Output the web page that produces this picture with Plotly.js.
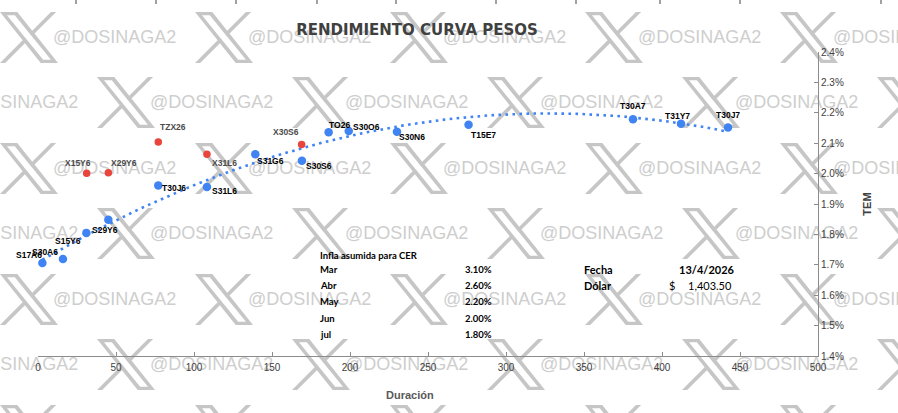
<!DOCTYPE html>
<html>
<head>
<meta charset="utf-8">
<script src="https://cdn.plot.ly/plotly-3.0.1.min.js"></script>
<style>html,body{margin:0;padding:0;background:#fff;}#chart{width:898px;height:413px;}</style>
</head>
<body>
<div id="chart"></div>
<script>
// ---- Data (Duración in days, TEM in %) ----
const blueNames = ["S17A6","S30A6","S15Y6","S29Y6","T30J6","S31L6","S31G6","S30S6","TO26","S30O6","S30N6","T15E7","T30A7","T31Y7","T30J7"];
const blueDur   = [2.8, 16.0, 31.0, 45.1, 77.1, 108.3, 139.3, 169.2, 186.3, 199.2, 230.1, 276.0, 381.4, 412.2, 442.3];
const blueTem   = [1.706, 1.719, 1.805, 1.848, 1.961, 1.956, 2.064, 2.042, 2.136, 2.140, 2.138, 2.161, 2.179, 2.164, 2.152];

const redNames = ["X15Y6","X29Y6","TZX26","X31L6","X30S6"];
const redDur   = [31.2, 45.1, 77.1, 108.3, 169.0];
const redTem   = [2.001, 2.003, 2.104, 2.064, 2.096];

const inflaMonths = ["Mar","Abr","May","Jun","jul"];
const inflaValues = ["3.10%","2.60%","2.20%","2.00%","1.80%"];
const fecha = "13/4/2026";
const dolar = "1,403.50";

// ---- Label placement (pixel offsets of label centre from its point) ----
const blueLabelOffsets = [[-13,-8],[-18,-7],[-18,8],[-3,10],[16,3],[18,4],[15,7],[17,5],[11,-7],[18,-4],[15,5],[15,10],[0,-13],[-4,-8],[0,-12]];
const redLabelOffsets  = [[-9,-10],[16,-10],[15,-15],[18,9],[-16,-12]];

// ---- Quadratic (order-2 polynomial) trendline of the blue series, like the spreadsheet ----
function polyFit2(xs, ys){
  let n=xs.length,s0=n,s1=0,s2=0,s3=0,s4=0,t0=0,t1=0,t2=0;
  for(let i=0;i<n;i++){const x=xs[i],y=ys[i];s1+=x;s2+=x*x;s3+=x*x*x;s4+=x*x*x*x;t0+=y;t1+=x*y;t2+=x*x*y;}
  const A=[[s0,s1,s2,t0],[s1,s2,s3,t1],[s2,s3,s4,t2]];
  for(let c=0;c<3;c++){
    let p=c;for(let r=c+1;r<3;r++) if(Math.abs(A[r][c])>Math.abs(A[p][c])) p=r;
    [A[c],A[p]]=[A[p],A[c]];
    for(let r=0;r<3;r++){ if(r===c) continue; const f=A[r][c]/A[c][c]; for(let k=c;k<4;k++) A[r][k]-=f*A[c][k]; }
  }
  return [A[0][3]/A[0][0],A[1][3]/A[1][1],A[2][3]/A[2][2]];
}
const coef = polyFit2(blueDur, blueTem);
const xmin = Math.min(...blueDur), xmax = Math.max(...blueDur);
const trendX = [], trendY = [];
for(let i=0;i<=80;i++){ const x = xmin + (xmax-xmin)*i/80; trendX.push(x); trendY.push(coef[0]+coef[1]*x+coef[2]*x*x); }

// ---- Geometry helpers ----
const W=898,H=413,ML=38,MR=80,MT=52,MB=57;
const PW=W-ML-MR, PH=H-MT-MB;
const px=p=>(p-ML)/PW, py=p=>(H-MB-p)/PH;

const BLUE="#3f84f2", RED="#e8453c";

const traces = [
  {x:trendX,y:trendY,mode:"lines",line:{color:BLUE,width:2.6,dash:"2.6px,4.4px"},hoverinfo:"skip",showlegend:false},
  {x:blueDur,y:blueTem,mode:"markers",marker:{color:BLUE,size:8.5},text:blueNames,showlegend:false},
  {x:redDur,y:redTem,mode:"markers",marker:{color:RED,size:7.5},text:redNames,showlegend:false}
];

const annotations = [];
blueNames.forEach((n,i)=>annotations.push({x:blueDur[i],y:blueTem[i],xref:"x",yref:"y",text:n,showarrow:false,
  xshift:blueLabelOffsets[i][0],yshift:-blueLabelOffsets[i][1],font:{family:"Liberation Sans, Arial",size:8.5,color:"#000",weight:"bold"}}));
redNames.forEach((n,i)=>annotations.push({x:redDur[i],y:redTem[i],xref:"x",yref:"y",text:n,showarrow:false,
  xshift:redLabelOffsets[i][0],yshift:-redLabelOffsets[i][1],font:{family:"Liberation Sans, Arial",size:8.5,color:"#4a4a4a",weight:"bold"}}));

// x-axis title
annotations.push({xref:"paper",yref:"paper",x:px(410),y:py(395),text:"Duración",showarrow:false,xanchor:"center",yanchor:"middle",
  font:{family:"Liberation Sans, Arial",size:11,color:"#595959",weight:"bold"}});

// Inflation table
const tblFont={family:"Lato, Carlito, Calibri, sans-serif",size:9.5,color:"#000",weight:"bold"};
annotations.push({xref:"paper",yref:"paper",x:px(318),y:py(255),text:"Infla asumida para CER",showarrow:false,xanchor:"left",yanchor:"middle",font:tblFont});
inflaMonths.forEach((m,i)=>{
  const yy=269.3+i*16.25;
  annotations.push({xref:"paper",yref:"paper",x:px(318),y:py(yy),text:m,showarrow:false,xanchor:"left",yanchor:"middle",font:tblFont});
  annotations.push({xref:"paper",yref:"paper",x:px(494),y:py(yy),text:inflaValues[i],showarrow:false,xanchor:"right",yanchor:"middle",font:tblFont});
});
const boxFont={family:"Lato, Carlito, Calibri, sans-serif",size:11,color:"#000",weight:"bold"};
const boxFontN={family:"Lato, Carlito, Calibri, sans-serif",size:11,color:"#000"};
annotations.push({xref:"paper",yref:"paper",x:px(582),y:py(269),text:"Fecha",showarrow:false,xanchor:"left",yanchor:"middle",font:boxFont});
annotations.push({xref:"paper",yref:"paper",x:px(737),y:py(269),text:fecha,showarrow:false,xanchor:"right",yanchor:"middle",font:boxFont});
annotations.push({xref:"paper",yref:"paper",x:px(582),y:py(285),text:"Dólar",showarrow:false,xanchor:"left",yanchor:"middle",font:boxFont});
annotations.push({xref:"paper",yref:"paper",x:px(667),y:py(285),text:"$",showarrow:false,xanchor:"left",yanchor:"middle",font:boxFontN});
annotations.push({xref:"paper",yref:"paper",x:px(734),y:py(285),text:dolar,showarrow:false,xanchor:"right",yanchor:"middle",font:boxFontN});

// ---- Watermark (X logo + handle text), drawn below the data ----
const xLogoPath="M714.163 519.284L1160.89 0H1055.03L667.137 450.887L357.328 0H0L468.492 681.821L0 1226.37H105.866L515.491 750.218L842.672 1226.37H1200L714.136 519.284H714.163ZM569.165 687.828L521.697 619.934L144.011 79.6944H306.615L611.412 515.685L658.88 583.579L1055.08 1150.3H892.476L569.165 687.854V687.828Z";
const logoSrc="data:image/svg+xml;charset=utf-8,"+encodeURIComponent("<svg xmlns='http://www.w3.org/2000/svg' viewBox='0 0 1200 1227' preserveAspectRatio='none'><path fill='#c6c6c6' d='"+xLogoPath+"'/></svg>");
const images=[], shapes=[];
const rowTops=[12,77,143,208,274,339,405];
rowTops.forEach((top,r)=>{
  const start = (r%2===0)? 0 : -98;
  for(let lx=start; lx<W; lx+=195){
    images.push({source:logoSrc,xref:"paper",yref:"paper",x:px(lx),y:py(top),sizex:58/PW,sizey:51/PH,xanchor:"left",yanchor:"top",sizing:"stretch",layer:"below"});
    shapes.push({type:"rect",xref:"paper",yref:"paper",x0:px(lx+50),x1:px(lx+175),y0:py(top+23+8),y1:py(top+23-8),
      line:{width:0},fillcolor:"rgba(0,0,0,0)",layer:"below",
      label:{text:"@DOSINAGA2",textposition:"middle left",padding:0,font:{family:"Liberation Sans, Arial",size:18,color:"#cecece"}}});
  }
});
// small sheet column marks at the top edge
[76,156,236,317,396,496,576,660,740,881].forEach(x=>shapes.push({type:"line",xref:"paper",yref:"paper",x0:px(x),x1:px(x),y0:py(0),y1:py(4),line:{color:"#444",width:1},layer:"below"}));

const layout = {
  width:W,height:H,margin:{l:ML,r:MR,t:MT,b:MB},
  paper_bgcolor:"#fff",plot_bgcolor:"rgba(0,0,0,0)",
  showlegend:false,
  title:{text:"RENDIMIENTO CURVA PESOS",x:417/W,xanchor:"center",y:1-30/H,yanchor:"middle",xref:"container",yref:"container",
    font:{family:"DejaVu Sans",size:15,color:"#404040",weight:"bold"}},
  xaxis:{range:[0,500],dtick:50,tick0:0,showgrid:false,zeroline:false,showline:true,linecolor:"#8c8c8c",linewidth:1,
    ticks:"inside",ticklen:4,tickcolor:"#8c8c8c",tickfont:{family:"Liberation Sans, Arial",size:10,color:"#404040"},ticklabelstandoff:2},
  yaxis:{range:[1.4,2.4],dtick:0.1,tick0:1.4,side:"right",showgrid:false,zeroline:false,showline:true,linecolor:"#8c8c8c",linewidth:1,
    ticks:"inside",ticklen:4,tickcolor:"#8c8c8c",tickformat:".1f",ticksuffix:"%",tickfont:{family:"Liberation Sans, Arial",size:10,color:"#404040"},
    title:{text:"TEM",standoff:20,font:{family:"Liberation Sans, Arial",size:11,color:"#404040",weight:"bold"}}},
  annotations:annotations,images:images,shapes:shapes
};
Plotly.newPlot("chart",traces,layout,{displayModeBar:false,staticPlot:true});
</script>
</body>
</html>
